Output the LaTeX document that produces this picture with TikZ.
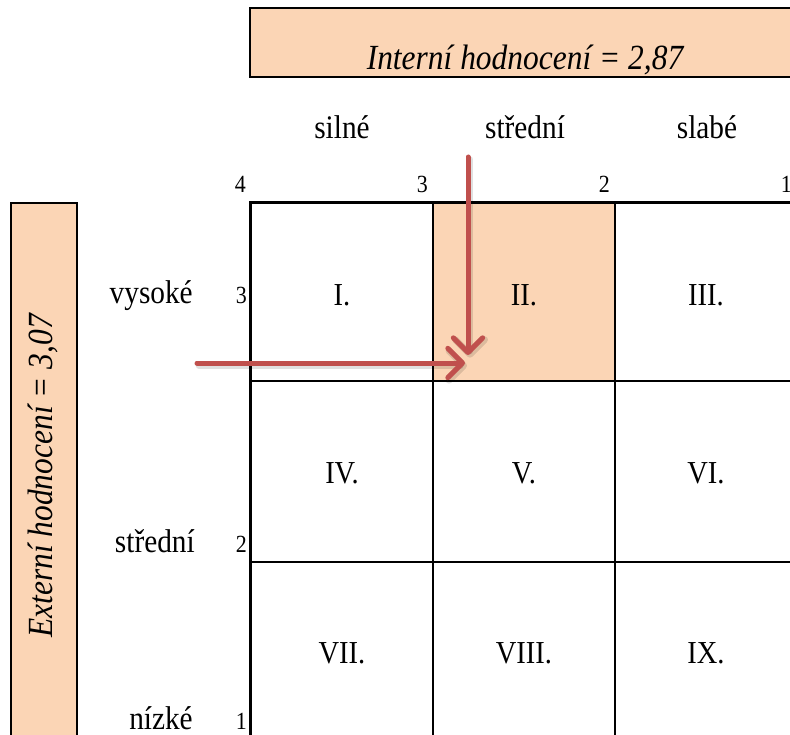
\documentclass[tikz,border=0pt]{standalone}
\usepackage{fontspec}
\setmainfont{Liberation Serif}[FakeStretch=0.89]
\usetikzlibrary{arrows.meta}
\definecolor{peach}{HTML}{FBD5B5}
\definecolor{arrowred}{HTML}{C0504D}

\begin{document}
\begin{tikzpicture}[x=0.75pt,y=-0.75pt,
  headbox/.style={draw=black, line width=1.5pt, fill=peach},
  gridline/.style={line width=1.5pt},
  frameline/.style={line width=2.25pt},
  cell/.style={font=\fontsize{24}{28}\selectfont, anchor=base, inner sep=0pt},
  lab/.style={font=\fontsize{24.7}{29}\selectfont, inner sep=0pt},
  scalenum/.style={font=\fontsize{18.5}{22}\selectfont, anchor=base east, inner sep=0pt},
  headtext/.style={font=\fontsize{26.5}{31}\selectfont\itshape, inner sep=0pt},
  pointer/.style={draw=arrowred, line width=3.75pt, line cap=round, line join=round,
    -{Straight Barb[length=11pt,width=22pt,round]}},
  pointershadow/.style={draw=black, opacity=0.12, line width=5pt, line cap=round,
    line join=round, -{Straight Barb[length=11pt,width=22pt,round]}}
]
\useasboundingbox (0,0) rectangle (790,735);
\begin{scope}
\clip (0,0) rectangle (790,735);

% heading boxes
\draw[headbox] (250,8) rectangle (820,77);
\node[headtext, anchor=base] (intern) at (525,70) {Interní hodnocení = 2,87};
\draw[headbox] (11,203) rectangle (77,770);
\node[headtext, rotate=90, anchor=base] (extern) at (52,476) {Externí hodnocení = 3,07};

% highlighted cell II
\fill[peach] (433,202) rectangle (615,381);

% grid lines
\draw[gridline] (433,202) -- (433,770);
\draw[gridline] (615,202) -- (615,770);
\draw[gridline] (250,381) -- (820,381);
\draw[gridline] (250,562) -- (820,562);
\draw[frameline] (820,202) -- (250,202) -- (250,770);

% column headers
\node[lab, anchor=base] (hsilne) at (342,139) {silné};
\node[lab, anchor=base] (hstredni) at (525,139) {střední};
\node[lab, anchor=base] (hslabe) at (707,139) {slabé};

% row headers
\node[lab, anchor=base east] (rvysoke) at (193,303) {vysoké};
\node[lab, anchor=base east] (rstredni) at (195,552) {střední};
\node[lab, anchor=base east] (rnizke) at (193,729) {nízké};

% scale numbers
\node[scalenum] (c4) at (246,193) {4};
\node[scalenum] (c3) at (428,193) {3};
\node[scalenum] (c2) at (610,193) {2};
\node[scalenum] (c1) at (792,193) {1};
\node[scalenum] (r3) at (247,303) {3};
\node[scalenum] (r2) at (247,552) {2};
\node[scalenum] (r1) at (247,729) {1};

% cell labels
\node[cell] (k1) at (342,305) {I.};
\node[cell] (k2) at (524,305) {II.};
\node[cell] (k3) at (706,305) {III.};
\node[cell] (k4) at (342,483) {IV.};
\node[cell] (k5) at (524,483) {V.};
\node[cell] (k6) at (706,483) {VI.};
\node[cell] (k7) at (342,663) {VII.};
\node[cell] (k8) at (524,663) {VIII.};
\node[cell] (k9) at (706,663) {IX.};

% pointers to the resulting cell
\coordinate (vstart) at (468,157);
\coordinate (vend) at (468,355);
\coordinate (hstart) at (197,363);
\coordinate (hend) at (465,363);
\draw[pointershadow, transform canvas={shift={(1.5pt,-2pt)}}] (vstart) -- (vend);
\draw[pointershadow, transform canvas={shift={(1.5pt,-2pt)}}] (hstart) -- (hend);
\draw[pointer] (vstart) -- (vend);
\draw[pointer] (hstart) -- (hend);
\end{scope}
\end{tikzpicture}
\end{document}
